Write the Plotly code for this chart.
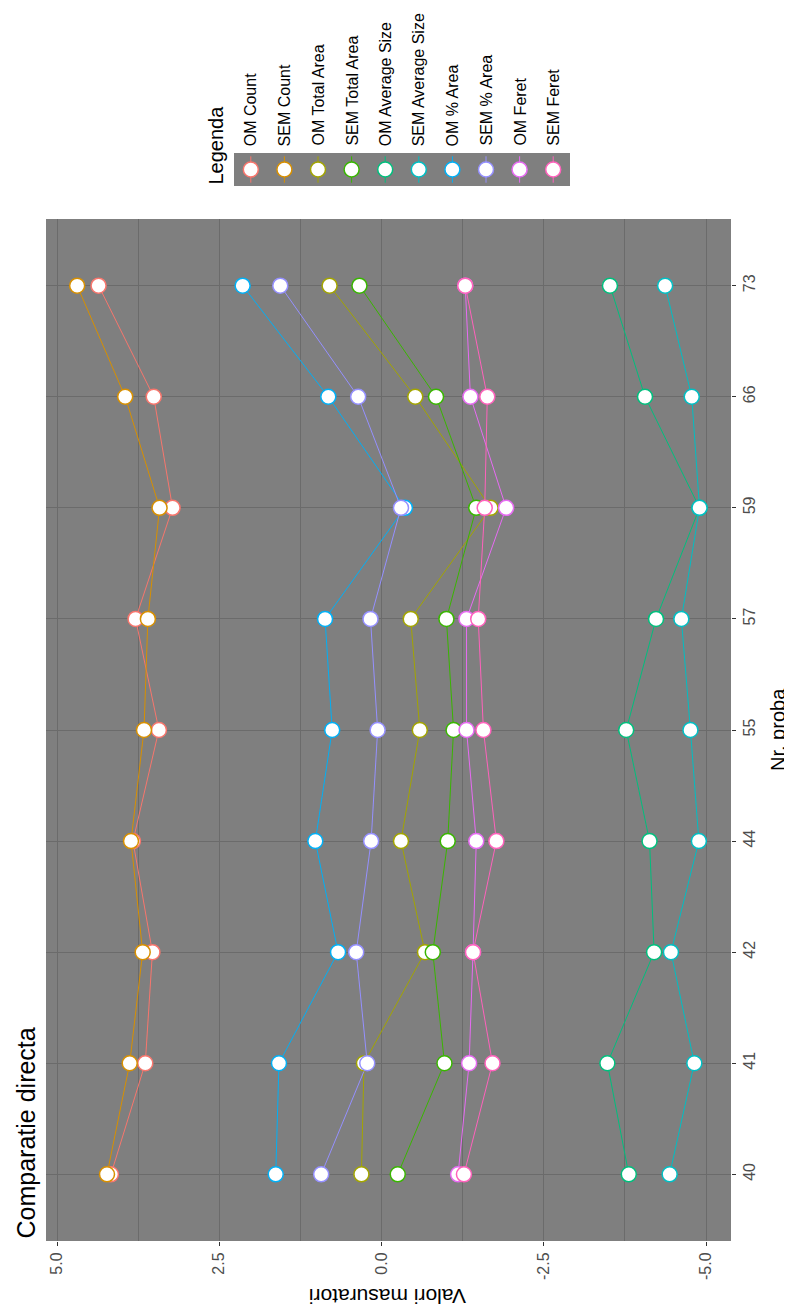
import plotly.graph_objects as go

# Nr. proba (bottom to top in the rotated view)
probe = ['40', '41', '42', '44', '55', '57', '59', '66', '73']

series_names = ['OM Count', 'SEM Count', 'OM Total Area', 'SEM Total Area',
                'OM Average Size', 'SEM Average Size', 'OM % Area', 'SEM % Area',
                'OM Feret', 'SEM Feret']
series_colors = ['#F8766D', '#D89000', '#A3A500', '#39B600', '#00BF7D',
                 '#00BFC4', '#00B0F6', '#9590FF', '#E76BF3', '#FF62BC']

om_count = [4.17, 3.64, 3.53, 3.83, 3.43, 3.79, 3.22, 3.51, 4.36]
sem_count = [4.23, 3.88, 3.68, 3.86, 3.66, 3.60, 3.42, 3.95, 4.69]
om_total_area = [0.31, 0.27, -0.67, -0.30, -0.59, -0.45, -1.68, -0.52, 0.80]
sem_total_area = [-0.25, -0.97, -0.79, -1.02, -1.11, -1.00, -1.46, -0.84, 0.34]
om_avg_size = [-3.81, -3.48, -4.20, -4.13, -3.77, -4.23, -4.90, -4.06, -3.52]
sem_avg_size = [-4.44, -4.82, -4.46, -4.89, -4.76, -4.62, -4.90, -4.78, -4.37]
om_pct_area = [1.63, 1.58, 0.67, 1.02, 0.76, 0.87, -0.36, 0.82, 2.14]
sem_pct_area = [0.93, 0.22, 0.39, 0.16, 0.06, 0.17, -0.30, 0.36, 1.56]
om_feret = [-1.18, -1.35, -1.41, -1.46, -1.31, -1.31, -1.92, -1.37, -1.29]
sem_feret = [-1.27, -1.71, -1.41, -1.77, -1.57, -1.49, -1.59, -1.63, -1.29]

series_values = [om_count, sem_count, om_total_area, sem_total_area, om_avg_size,
                 sem_avg_size, om_pct_area, sem_pct_area, om_feret, sem_feret]

value_ticks = [-5, -2.5, 0, 2.5, 5]
value_labels = ['-5.0', '-2.5', '0.0', '2.5', '5.0']

# page has an 8px body margin, so the figure is a bit smaller than the window
OFF = 8
W, H = 792 - OFF, 1315 - OFF
FONT = 'Liberation Sans, Arial, sans-serif'


def px_x(p):
    return (p - OFF) / W


def px_y(p):
    return 1 - (p - OFF) / H


fig = go.Figure()

# lines first, then points on top (like geom_line + geom_point)
for name, col, vals in zip(series_names, series_colors, series_values):
    fig.add_trace(go.Scatter(x=vals, y=probe, mode='lines', name=name,
                             line=dict(color=col, width=1), showlegend=False,
                             hoverinfo='skip'))
for name, col, vals in zip(series_names, series_colors, series_values):
    fig.add_trace(go.Scatter(x=vals, y=probe, mode='markers', name=name,
                             marker=dict(size=15, color='white',
                                         line=dict(color=col, width=1.5)),
                             showlegend=False))

# hand-made legend (rotated like the rest of the chart)
legend_pos = list(range(len(series_names)))
fig.add_trace(go.Scatter(x=legend_pos, y=[0] * len(legend_pos), mode='markers',
                         xaxis='x2', yaxis='y2', showlegend=False, hoverinfo='skip',
                         marker=dict(size=15, color='white',
                                     line=dict(color=series_colors, width=1.5))))

shapes = []
for i, col in enumerate(series_colors):
    shapes.append(dict(type='line', xref='x2', yref='y2', x0=i, x1=i, y0=-0.8, y1=0.8,
                       line=dict(color=col, width=1), layer='below'))

annotations = []
for i, name in enumerate(series_names):
    annotations.append(dict(x=i, xref='x2', y=px_y(148), yref='paper', text=name,
                            showarrow=False, textangle=-90, xanchor='center',
                            yanchor='bottom', font=dict(size=16, color='black', family=FONT)))

annotations += [
    dict(x=px_x(229), y=px_y(187), xref='paper', yref='paper', text='Legenda',
         showarrow=False, textangle=-90, xanchor='right', yanchor='bottom',
         font=dict(size=20, color='black', family=FONT)),
    dict(x=px_x(9), y=px_y(1241), xref='paper', yref='paper', text='Comparatie directa',
         showarrow=False, textangle=-90, xanchor='left', yanchor='bottom',
         font=dict(size=25, color='black', family=FONT)),
    dict(x=px_x(388), y=px_y(1297), xref='paper', yref='paper', text='Valori masuratori',
         showarrow=False, textangle=180, xanchor='center', yanchor='middle',
         font=dict(size=21, color='black', family=FONT)),
    dict(x=px_x(778), y=px_y(730), xref='paper', yref='paper', text='Nr. proba',
         showarrow=False, textangle=-90, xanchor='center', yanchor='middle',
         font=dict(size=20, color='black', family=FONT)),
]

fig.update_layout(
    width=W, height=H,
    margin=dict(l=0, r=0, t=0, b=0),
    paper_bgcolor='white',
    plot_bgcolor='#7F7F7F',
    font=dict(family=FONT),
    showlegend=False,
    shapes=shapes,
    annotations=annotations,
    xaxis=dict(domain=[px_x(46), px_x(731)], range=[5.17, -5.385],
               tickvals=value_ticks, ticktext=value_labels, tickangle=-90,
               ticks='outside', ticklen=4, tickcolor='#333333',
               tickfont=dict(size=16, color='#4D4D4D'),
               showgrid=True, gridcolor='#6B6B6B', gridwidth=1.3,
               minor=dict(tickvals=[-3.75, -1.25, 1.25, 3.75], showgrid=True,
                          gridcolor='#6B6B6B', gridwidth=0.7, ticks=''),
               zeroline=False, showline=False, fixedrange=True),
    yaxis=dict(domain=[px_y(1241), px_y(219)], type='category',
               categoryorder='array', categoryarray=probe, range=[-0.6, 8.6],
               side='right', tickangle=-90, ticks='outside', ticklen=4,
               tickcolor='#333333', tickfont=dict(size=16, color='#4D4D4D'),
               showgrid=True, gridcolor='#6B6B6B', gridwidth=1.3,
               zeroline=False, showline=False, fixedrange=True),
    xaxis2=dict(domain=[px_x(234), px_x(570)], range=[-0.5, 9.5], anchor='y2',
                showgrid=False, zeroline=False, showticklabels=False, ticks='',
                fixedrange=True),
    yaxis2=dict(domain=[px_y(186), px_y(153)], range=[-1, 1], anchor='x2',
                showgrid=False, zeroline=False, showticklabels=False, ticks='',
                fixedrange=True),
)

fig.write_html("out.html")
